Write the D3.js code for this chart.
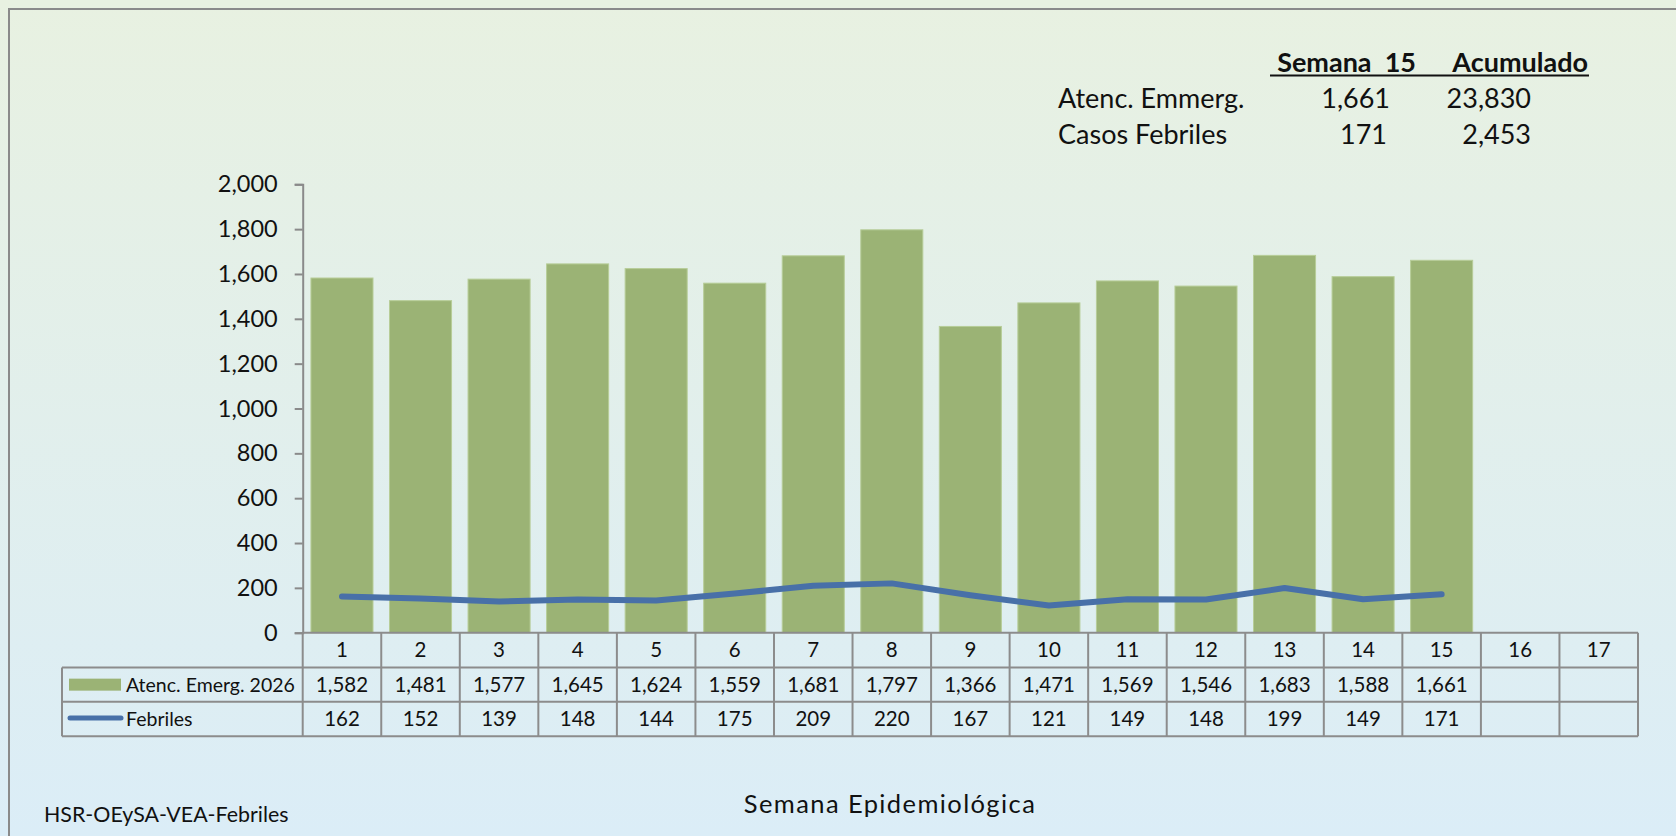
<!DOCTYPE html>
<html><head><meta charset="utf-8">
<script src="https://cdn.jsdelivr.net/npm/d3@7/dist/d3.min.js"></script>
<style>body{margin:0;padding:0;overflow:hidden}svg{display:block}text{font-family:Lato,"Noto Sans",sans-serif;fill:#111}</style>
</head><body><svg id="c" width="1676" height="836"></svg>
<script>
const weeks = ["1","2","3","4","5","6","7","8","9","10","11","12","13","14","15","16","17"];
const atenc = [1582,1481,1577,1645,1624,1559,1681,1797,1366,1471,1569,1546,1683,1588,1661];
const febriles = [162,152,139,148,144,175,209,220,167,121,149,148,199,149,171];
const yTicks = [0,200,400,600,800,1000,1200,1400,1600,1800,2000];
const seriesNames = ["Atenc. Emerg. 2026","Febriles"];
const summaryHeader = ["Semana  15","Acumulado"];
const summaryLabels = ["Atenc. Emmerg.","Casos Febriles"];
const summarySemana = ["1,661","171"];
const summaryAcum = ["23,830","2,453"];
const footer = "HSR-OEySA-VEA-Febriles";
const xTitle = "Semana Epidemiológica";

const svg = d3.select("#c");
const defs = svg.append("defs");
const g = defs.append("linearGradient").attr("id","bg").attr("x1",0).attr("y1",0).attr("x2",0).attr("y2",1);
g.append("stop").attr("offset","0%").attr("stop-color","#e8f1e1");
g.append("stop").attr("offset","100%").attr("stop-color","#dbedf7");
svg.append("rect").attr("width",1676).attr("height",836).attr("fill","url(#bg)");
svg.append("rect").attr("x",9).attr("y",9).attr("width",1700).attr("height",900)
  .attr("fill","none").attr("stroke","#8a8a8a").attr("stroke-width",2);

const x0 = 302.7, x1 = 1638, yTop = 184.3, yBot = 632.7;
const x = d3.scaleBand().domain(weeks).range([x0,x1]).paddingInner(0.21).paddingOuter(0.105);
const xc = d3.scaleBand().domain(weeks).range([x0,x1]);
const y = d3.scaleLinear().domain([0,2000]).range([yBot,yTop]);
const fmt = d3.format(",");

// bars
svg.append("g").selectAll("rect").data(atenc).join("rect")
  .attr("x",(d,i)=>x(weeks[i])).attr("y",d=>y(d))
  .attr("width",x.bandwidth()).attr("height",d=>yBot-y(d))
  .attr("fill","#9bb375").attr("stroke","#b7cd98").attr("stroke-width",1);

// line
const line = d3.line().x((d,i)=>xc(weeks[i])+xc.bandwidth()/2).y(d=>y(d)).curve(d3.curveLinear);
svg.append("path").datum(febriles).attr("d",line).attr("fill","none")
  .attr("stroke","#4870a8").attr("stroke-width",6).attr("stroke-linecap","round").attr("stroke-linejoin","round");

// y axis
const yAxis = d3.axisLeft(y).tickValues(yTicks).tickFormat(fmt).tickSize(8).tickPadding(17);
const ya = svg.append("g").attr("transform",`translate(${x0},0)`).call(yAxis);
ya.select(".domain").attr("stroke","#8a8a8a").attr("stroke-width",2);
ya.selectAll(".tick line").attr("stroke","#8a8a8a").attr("stroke-width",2);
ya.selectAll(".tick text").attr("font-size",23.5).attr("font-family","Lato").attr("fill","#111");

// data table
const tLeft = 62, rowH = [yBot, 667.5, 701.8, 736.3];
const gridC = "#8c8c8c";
const fs = 20.5;
const tg = svg.append("g").attr("stroke",gridC).attr("stroke-width",2).attr("fill","none");
tg.append("line").attr("x1",x0).attr("x2",x1).attr("y1",rowH[0]).attr("y2",rowH[0]);
[1,2,3].forEach(k=>tg.append("line").attr("x1",tLeft).attr("x2",x1).attr("y1",rowH[k]).attr("y2",rowH[k]));
tg.append("line").attr("x1",tLeft).attr("x2",tLeft).attr("y1",rowH[1]).attr("y2",rowH[3]);
tg.append("line").attr("x1",x0).attr("x2",x0).attr("y1",rowH[0]).attr("y2",rowH[3]);
weeks.forEach(w=>{
  const xr = xc(w)+xc.bandwidth();
  tg.append("line").attr("x1",xr).attr("x2",xr).attr("y1",rowH[0]).attr("y2",rowH[3]);
});
svg.append("g").selectAll("text").data(weeks).join("text")
  .attr("x",d=>xc(d)+xc.bandwidth()/2).attr("y",(rowH[0]+rowH[1])/2+7)
  .attr("text-anchor","middle").attr("font-size",fs).text(d=>d);
svg.append("g").selectAll("text").data(atenc).join("text")
  .attr("x",(d,i)=>xc(weeks[i])+xc.bandwidth()/2).attr("y",(rowH[1]+rowH[2])/2+7)
  .attr("text-anchor","middle").attr("font-size",fs).text(d=>fmt(d));
svg.append("g").selectAll("text").data(febriles).join("text")
  .attr("x",(d,i)=>xc(weeks[i])+xc.bandwidth()/2).attr("y",(rowH[2]+rowH[3])/2+7)
  .attr("text-anchor","middle").attr("font-size",fs).text(d=>fmt(d));
svg.append("rect").attr("x",69).attr("y",(rowH[1]+rowH[2])/2-6).attr("width",52).attr("height",12).attr("fill","#9bb375");
svg.append("line").attr("x1",70).attr("x2",121).attr("y1",(rowH[2]+rowH[3])/2-1).attr("y2",(rowH[2]+rowH[3])/2-1)
  .attr("stroke","#4870a8").attr("stroke-width",5).attr("stroke-linecap","round");
svg.append("g").selectAll("text").data(seriesNames).join("text")
  .attr("x",126).attr("y",(d,i)=>(rowH[i+1]+rowH[i+2])/2+7).attr("font-size",19.5).text(d=>d);

// summary box
const sfs = 27;
svg.append("text").attr("x",1416).attr("y",71.5).attr("text-anchor","end").attr("font-size",sfs).attr("font-weight","bold").style("white-space","pre").text(summaryHeader[0]);
svg.append("text").attr("x",1588).attr("y",71.5).attr("text-anchor","end").attr("font-size",sfs).attr("font-weight","bold").text(summaryHeader[1]);
svg.append("line").attr("x1",1270).attr("x2",1589).attr("y1",75.5).attr("y2",75.5).attr("stroke","#111").attr("stroke-width",1.8);
summaryLabels.forEach((l,i)=>{
  const yy = [107.5,144][i];
  svg.append("text").attr("x",1058).attr("y",yy).attr("font-size",sfs).text(l);
  svg.append("text").attr("x",1390-(i?3:0)).attr("y",yy).attr("text-anchor","end").attr("font-size",sfs).text(summarySemana[i]);
  svg.append("text").attr("x",1531).attr("y",yy).attr("text-anchor","end").attr("font-size",sfs).text(summaryAcum[i]);
});

svg.append("text").attr("x",44).attr("y",822).attr("font-size",21.4).text(footer);
svg.append("text").attr("x",890).attr("y",813).attr("text-anchor","middle").attr("font-size",25.5).attr("letter-spacing",1.4).text(xTitle);
</script></body></html>
